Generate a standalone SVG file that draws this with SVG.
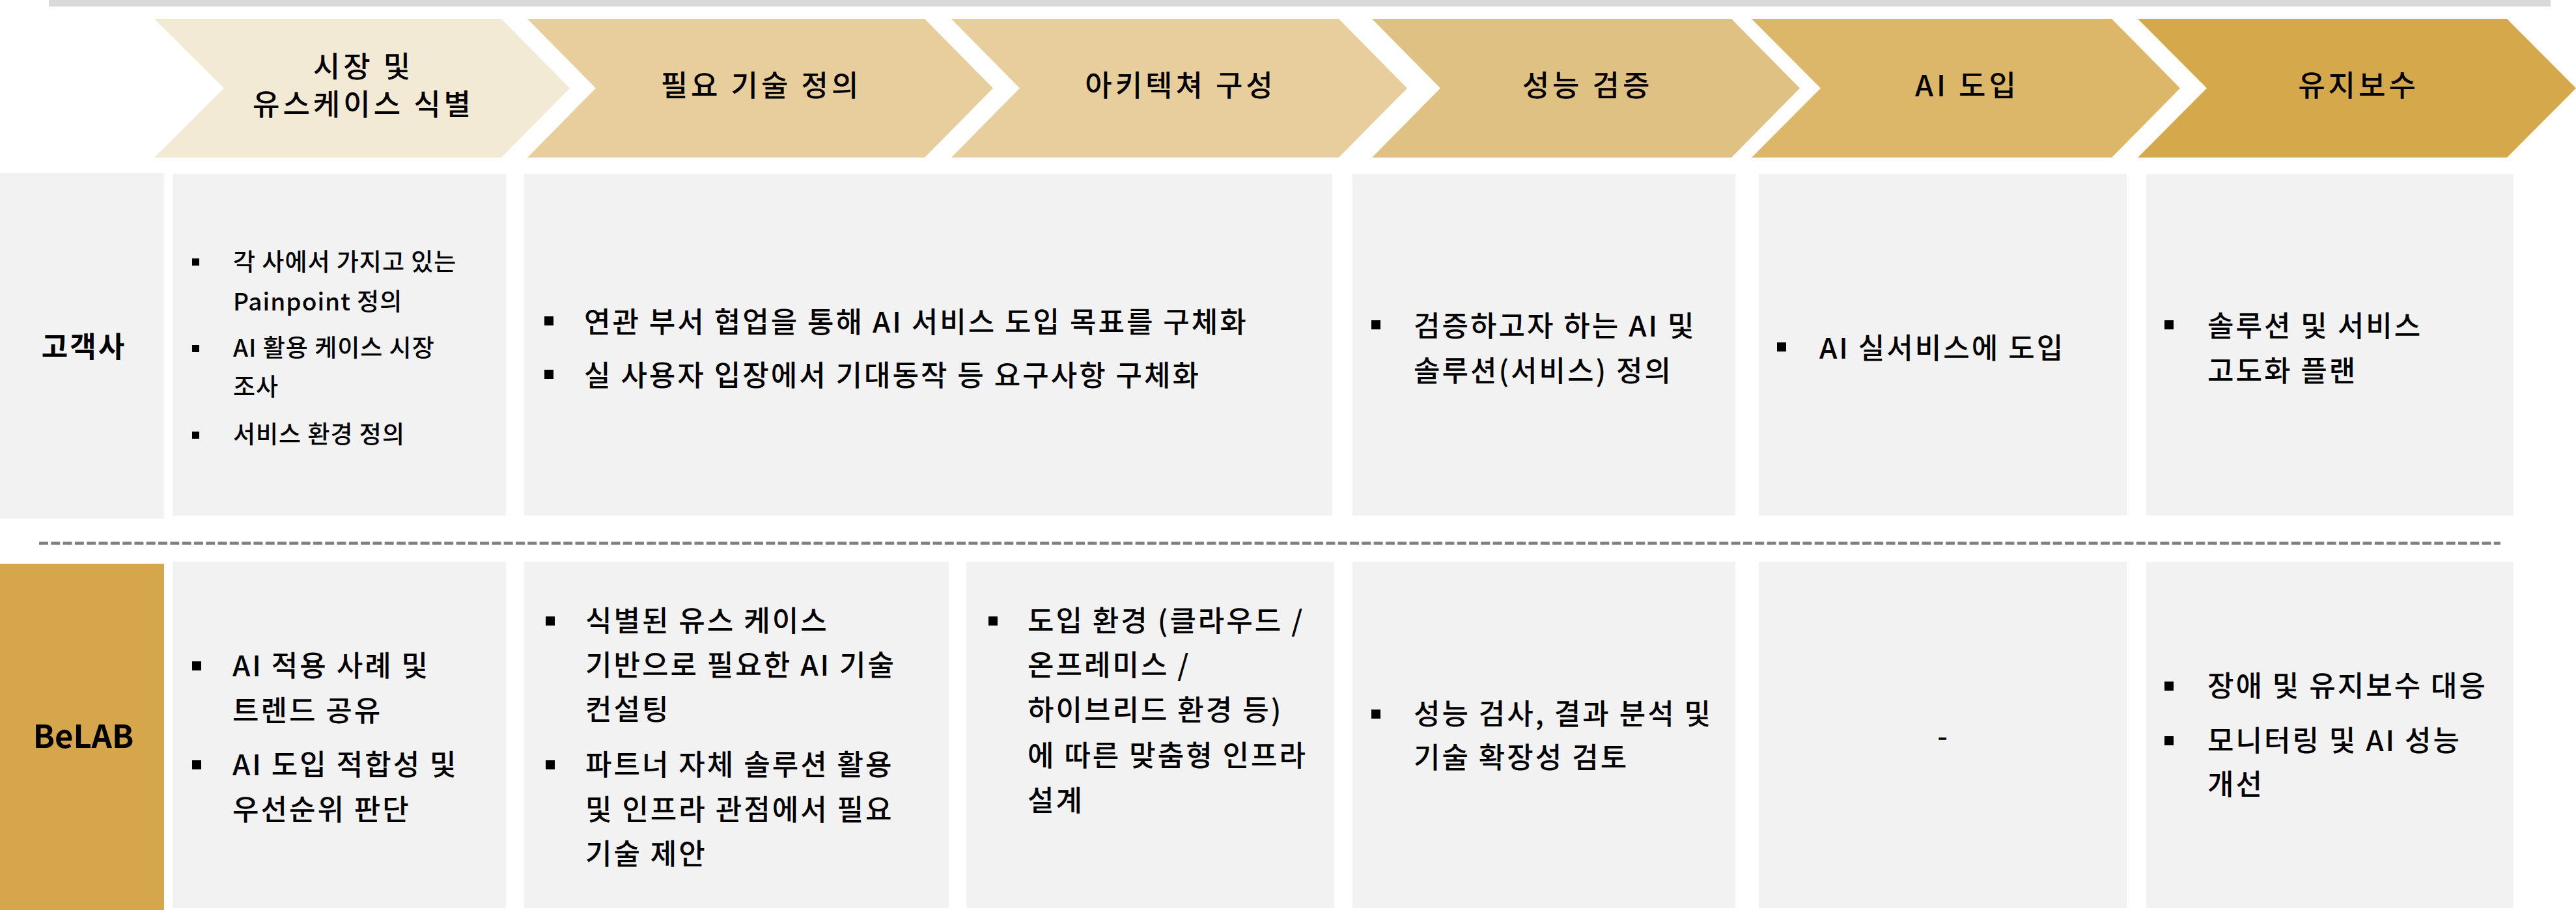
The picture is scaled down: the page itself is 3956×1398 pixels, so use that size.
<svg xmlns="http://www.w3.org/2000/svg" width="3956" height="1398" viewBox="0 0 3956 1398">
<style>
text{font-family:"Noto Sans CJK KR","Noto Sans",sans-serif;fill:#000;}
.h{font-size:45px;font-weight:500;text-anchor:middle;letter-spacing:5px;}
.t{font-size:44px;font-weight:500;letter-spacing:3px;}
.s{font-size:37px;font-weight:500;letter-spacing:1px;}
.lab{font-size:44px;font-weight:700;text-anchor:middle;letter-spacing:3px;}
.cell{fill:#f2f2f2;}
.b{fill:#000;}
</style>
<rect x="0" y="0" width="3956" height="1398" fill="#fff"/>
<rect id="topbar" x="75" y="0" width="3842" height="10" fill="#d9d9d9"/>

<g id="step1">
<polygon points="237,29 770,29 875,135.5 770,242 237,242 344,135.5" fill="#f3ead6"/>
<text class="h" x="558" y="119">시장 및</text>
<text class="h" x="558" y="177">유스케이스 식별</text>
</g>
<g id="step2">
<polygon points="810,29 1420,29 1525,135.5 1420,242 810,242 915,135.5" fill="#e8ce9c"/>
<text class="h" x="1169" y="148">필요 기술 정의</text>
</g>
<g id="step3">
<polygon points="1461,29 2056,29 2161,135.5 2056,242 1461,242 1566,135.5" fill="#e8ce9c"/>
<text class="h" x="1813" y="148">아키텍쳐 구성</text>
</g>
<g id="step4">
<polygon points="2107,29 2659,29 2764,135.5 2659,242 2107,242 2212,135.5" fill="#e0c184"/>
<text class="h" x="2438" y="148">성능 검증</text>
</g>
<g id="step5">
<polygon points="2690,29 3243,29 3348,135.5 3243,242 2690,242 2796,135.5" fill="#dcb769"/>
<text class="h" x="3021" y="148">AI 도입</text>
</g>
<g id="step6">
<polygon points="3283,29 3850,29 3956,135.5 3850,242 3283,242 3389,135.5" fill="#d6a84c"/>
<text class="h" x="3622" y="148">유지보수</text>
</g>

<g id="label-customer">
<rect class="cell" x="0" y="266" width="252" height="531"/>
<text class="lab" x="129" y="549">고객사</text>
</g>

<g id="c1-1">
<rect class="cell" x="265" y="267" width="512" height="525"/>
<rect class="b" x="295" y="397" width="11" height="11"/>
<text class="s" x="358" y="416">각 사에서 가지고 있는</text>
<text class="s" x="358" y="477">Painpoint 정의</text>
<rect class="b" x="295" y="530" width="11" height="11"/>
<text class="s" x="358" y="548">AI 활용 케이스 시장</text>
<text class="s" x="358" y="608">조사</text>
<rect class="b" x="295" y="663" width="11" height="11"/>
<text class="s" x="358" y="681">서비스 환경 정의</text>
</g>

<g id="c1-2">
<rect class="cell" x="805" y="267" width="1241" height="525"/>
<rect class="b" x="836" y="486" width="14" height="14"/>
<text class="t" x="897" y="511">연관 부서 협업을 통해 AI 서비스 도입 목표를 구체화</text>
<rect class="b" x="836" y="568" width="14" height="14"/>
<text class="t" x="897" y="593">실 사용자 입장에서 기대동작 등 요구사항 구체화</text>
</g>

<g id="c1-3">
<rect class="cell" x="2077" y="267" width="588" height="525"/>
<rect class="b" x="2106" y="492" width="14" height="14"/>
<text class="t" x="2171" y="517">검증하고자 하는 AI 및</text>
<text class="t" x="2171" y="586">솔루션(서비스) 정의</text>
</g>

<g id="c1-4">
<rect class="cell" x="2701" y="267" width="565" height="525"/>
<rect class="b" x="2729" y="526" width="14" height="14"/>
<text class="t" x="2794" y="551">AI 실서비스에 도입</text>
</g>

<g id="c1-5">
<rect class="cell" x="3296" y="267" width="564" height="525"/>
<rect class="b" x="3324" y="492" width="14" height="14"/>
<text class="t" x="3390" y="517">솔루션 및 서비스</text>
<text class="t" x="3390" y="586">고도화 플랜</text>
</g>

<g id="connectors">
<line x1="60" y1="834.5" x2="3840" y2="834.5" stroke="#7f7f7f" stroke-width="4.5" stroke-dasharray="14 4.3"/>
</g>

<g id="label-belab">
<rect x="0" y="866" width="252" height="532" fill="#d6a64c"/>
<text class="lab" x="128" y="1149" style="font-size:49px;letter-spacing:0px">BeLAB</text>
</g>

<g id="c2-1">
<rect class="cell" x="265" y="863" width="512" height="532"/>
<rect class="b" x="295" y="1016" width="14" height="14"/>
<text class="t" x="357" y="1039">AI 적용 사례 및</text>
<text class="t" x="357" y="1108">트렌드 공유</text>
<rect class="b" x="295" y="1168" width="14" height="14"/>
<text class="t" x="357" y="1191">AI 도입 적합성 및</text>
<text class="t" x="357" y="1260">우선순위 판단</text>
</g>

<g id="c2-2">
<rect class="cell" x="805" y="863" width="652" height="532"/>
<rect class="b" x="838" y="947" width="14" height="14"/>
<text class="t" x="899" y="970">식별된 유스 케이스</text>
<text class="t" x="899" y="1038">기반으로 필요한 AI 기술</text>
<text class="t" x="899" y="1106">컨설팅</text>
<rect class="b" x="838" y="1168" width="14" height="14"/>
<text class="t" x="899" y="1191">파트너 자체 솔루션 활용</text>
<text class="t" x="899" y="1260">및 인프라 관점에서 필요</text>
<text class="t" x="899" y="1328">기술 제안</text>
</g>

<g id="c2-3">
<rect class="cell" x="1484" y="863" width="565" height="532"/>
<rect class="b" x="1518" y="947" width="14" height="14"/>
<text class="t" x="1578" y="970">도입 환경 (클라우드 /</text>
<text class="t" x="1578" y="1038">온프레미스 /</text>
<text class="t" x="1578" y="1107">하이브리드 환경 등)</text>
<text class="t" x="1578" y="1177">에 따른 맞춤형 인프라</text>
<text class="t" x="1578" y="1246">설계</text>
</g>

<g id="c2-4">
<rect class="cell" x="2077" y="863" width="588" height="532"/>
<rect class="b" x="2106" y="1090" width="14" height="14"/>
<text class="t" x="2171" y="1113">성능 검사, 결과 분석 및</text>
<text class="t" x="2171" y="1180">기술 확장성 검토</text>
</g>

<g id="c2-5">
<rect class="cell" x="2701" y="863" width="565" height="532"/>
<text class="t" x="2983" y="1147" text-anchor="middle" style="letter-spacing:0px">-</text>
</g>

<g id="c2-6">
<rect class="cell" x="3296" y="863" width="564" height="532"/>
<rect class="b" x="3324" y="1047" width="14" height="14"/>
<text class="t" x="3390" y="1070">장애 및 유지보수 대응</text>
<rect class="b" x="3324" y="1131" width="14" height="14"/>
<text class="t" x="3390" y="1154">모니터링 및 AI 성능</text>
<text class="t" x="3390" y="1221">개선</text>
</g>
</svg>
